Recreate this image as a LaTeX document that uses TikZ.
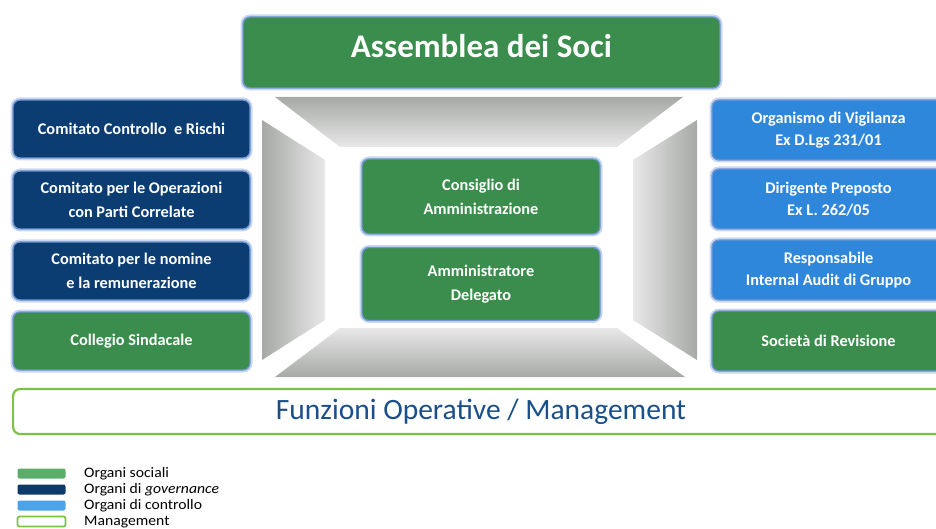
\documentclass[tikz,border=0pt]{standalone}
\usepackage{fontspec}
\setmainfont{Carlito}
\newfontfamily\legfont[FakeStretch=1.08]{Carlito}
\definecolor{sgreen}{HTML}{3A8D4C}
\definecolor{snavy}{HTML}{0B3D72}
\definecolor{sblue}{HTML}{2F87DC}
\definecolor{glowout}{HTML}{C9D8EF}
\definecolor{glowin}{HTML}{7096D2}
\definecolor{mgreen}{HTML}{7DC243}
\definecolor{mtext}{HTML}{1B4F8A}
\definecolor{lgreen}{HTML}{5BAE6A}
\definecolor{lnavy}{HTML}{0E3A6A}
\definecolor{lblue}{HTML}{4DA3E8}
\definecolor{wallout}{HTML}{A6A9A6}
\definecolor{wallin}{HTML}{E8E8E8}
\tikzset{
  orgbox/.style={rectangle, rounded corners=7pt, text=white, align=center,
    preaction={draw=glowout, line width=5pt},
    draw=glowin, line width=1.4pt, inner sep=2pt,
    font=\bfseries\fontsize{16.3}{24}\selectfont},
  socbox/.style={orgbox, fill=sgreen},
  govbox/.style={orgbox, fill=snavy},
  ctlbox/.style={orgbox, fill=sblue},
  sidebox/.style={minimum width=237pt, minimum height=58pt},
  rightbox/.style={minimum width=233pt, minimum height=60pt, font=\bfseries\fontsize{16.3}{22}\selectfont},
  swatch/.style={rectangle, rounded corners=2pt, minimum width=48pt, minimum height=10pt, inner sep=0pt},
  legtext/.style={anchor=base west, inner sep=0pt, font=\legfont\fontsize{14.5}{15}\selectfont, text=black}
}
\begin{document}
\begin{tikzpicture}[x=1pt,y=-1pt]
\useasboundingbox (0,0) rectangle (936,529);
\clip (0,0) rectangle (936,529);
% room walls
\shade[top color=wallout, bottom color=wallin] (275,97) -- (683,97) -- (617,147) -- (340,147) -- cycle;
\shade[top color=wallin, bottom color=wallout] (340,328) -- (617,328) -- (685,377) -- (275,377) -- cycle;
\shade[left color=wallout, right color=wallin] (262,120) -- (325,160) -- (325,320) -- (262,360) -- cycle;
\shade[left color=wallin, right color=wallout] (633,160) -- (697,120) -- (697,360) -- (633,320) -- cycle;
% top
\node[socbox, minimum width=477pt, minimum height=71pt] (ass) at (481.5,52.5) {};
\node[text=white, font=\bfseries\fontsize{33}{36}\selectfont, anchor=base, inner sep=0pt] (asst) at (481.5,58) {Assemblea dei Soci};
% left column
\node[govbox, sidebox] (ccr) at (131.5,129) {Comitato Controllo \ e Rischi};
\node[govbox, sidebox] (cop) at (131.5,200) {Comitato per le Operazioni\\con Parti Correlate};
\node[govbox, sidebox] (cnr) at (131.5,271) {Comitato per le nomine\\e la remunerazione};
\node[socbox, sidebox] (cs) at (131.5,341) {Collegio Sindacale};
% centre
\node[socbox, minimum width=238pt, minimum height=75pt] (cda) at (481,196.5) {Consiglio di\\Amministrazione};
\node[socbox, minimum width=238pt, minimum height=73pt] (ad) at (481,284) {Amministratore\\Delegato};
% right column
\node[ctlbox, rightbox] (odv) at (828.5,130) {Organismo di Vigilanza\\Ex D.Lgs 231/01};
\node[ctlbox, rightbox] (dp) at (828.5,199) {Dirigente Preposto\\Ex L. 262/05};
\node[ctlbox, rightbox] (ria) at (828.5,270) {Responsabile\\Internal Audit di Gruppo};
\node[socbox, rightbox] (sr) at (828.5,341) {Società di Revisione};
% management
\node[rectangle, rounded corners=7pt, draw=mgreen, line width=2.2pt, fill=white,
      minimum width=933pt, minimum height=45pt, anchor=west, inner sep=0pt] (mgmt) at (12,411.5) {};
\node[text=mtext, font=\fontsize{29.5}{32}\selectfont, inner sep=0pt] (mgmtt) at (481,412) {Funzioni Operative / Management};
% legend
\node[swatch, fill=lgreen] (l1) at (41.5,473.5) {};
\node[swatch, fill=lnavy] (l2) at (41.5,489.5) {};
\node[swatch, fill=lblue] (l3) at (41.5,505.5) {};
\node[swatch, draw=mgreen, line width=1.8pt, fill=white] (l4) at (41.5,521.5) {};
\node[legtext] (t1) at (84,477) {Organi sociali};
\node[legtext] (t2) at (84,493) {Organi di \textit{governance}};
\node[legtext] (t3) at (84,509) {Organi di controllo};
\node[legtext] (t4) at (84,525) {Management};
\end{tikzpicture}
\end{document}
